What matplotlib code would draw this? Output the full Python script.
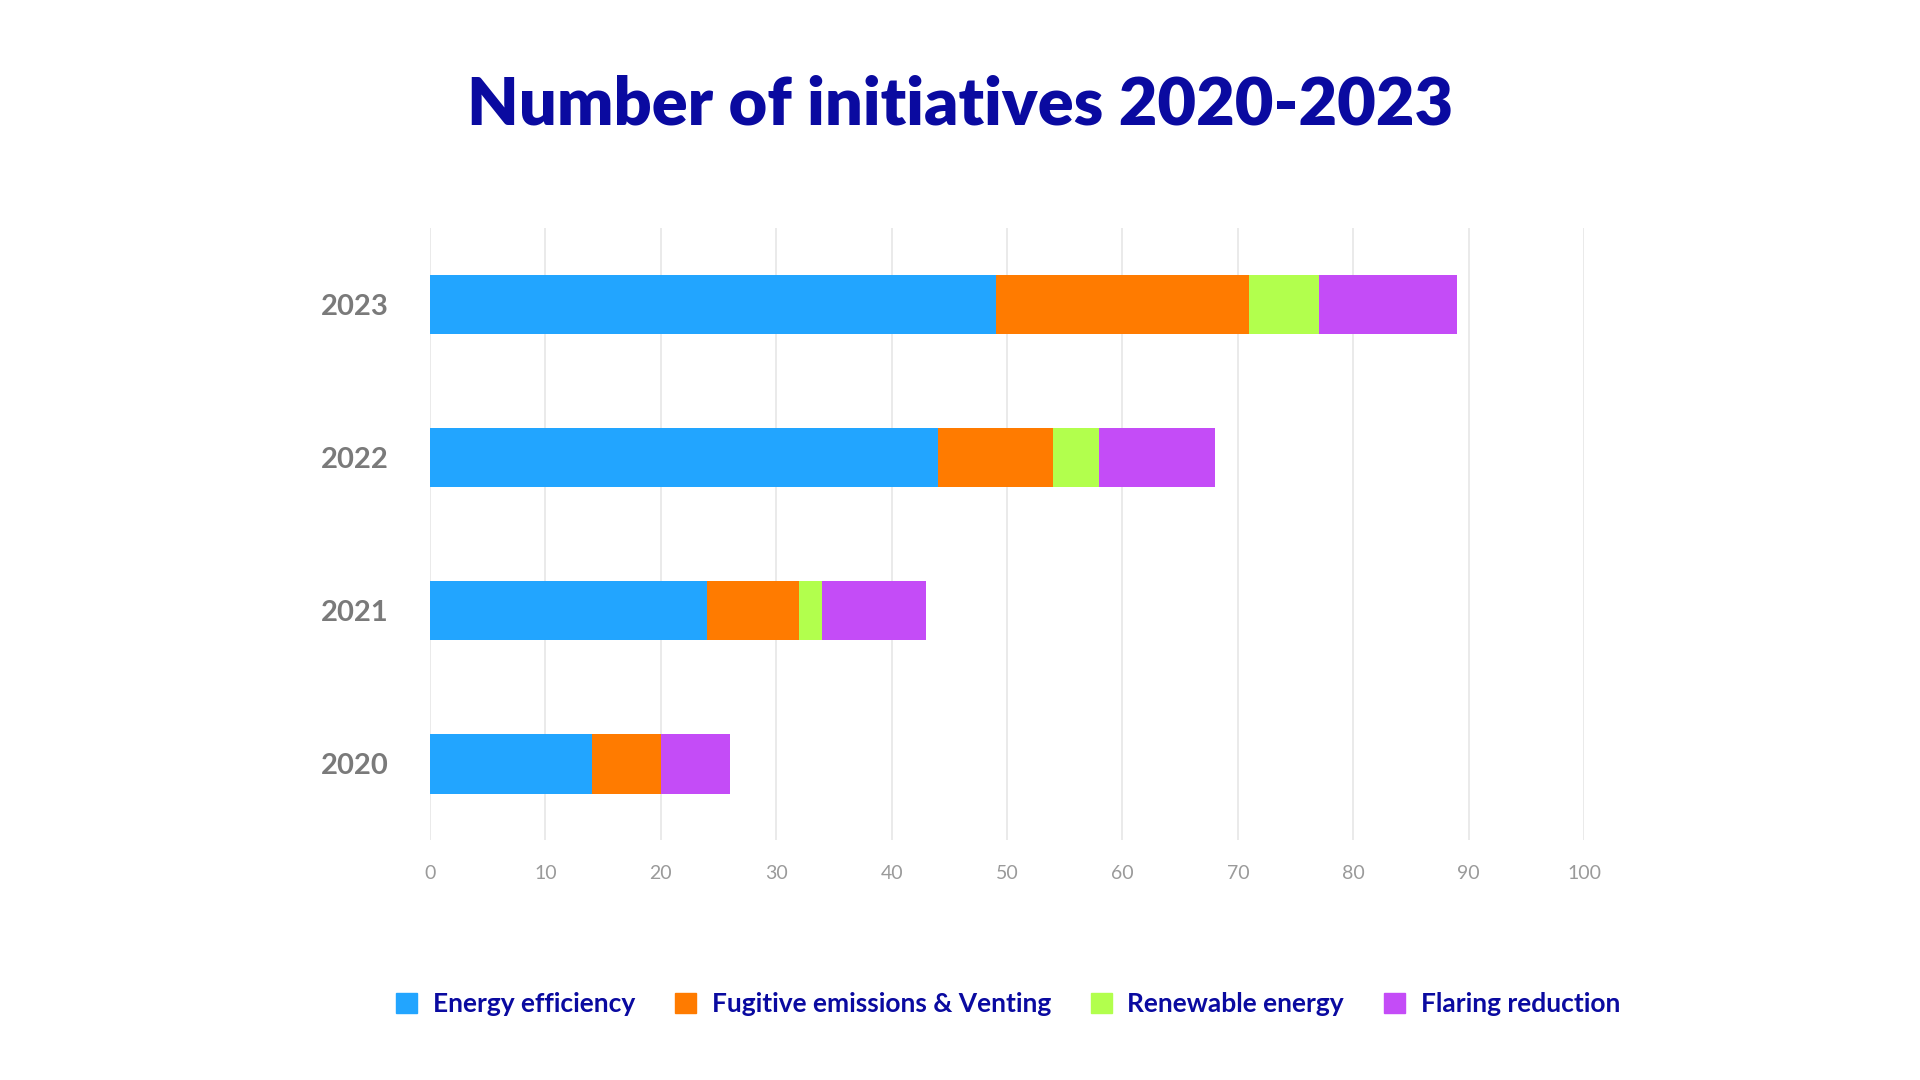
import matplotlib
matplotlib.use("Agg")
import matplotlib.pyplot as plt
from matplotlib.patches import Patch

plt.rcParams["font.family"] = "Lato"

years = ["2020", "2021", "2022", "2023"]
energy_eff = [14, 24, 44, 49]
fugitive = [6, 8, 10, 22]
renewable = [0, 2, 4, 6]
flaring = [6, 9, 10, 12]
series_names = ["Energy efficiency", "Fugitive emissions & Venting", "Renewable energy", "Flaring reduction"]
colors = ["#22a5ff", "#ff7b00", "#b2ff4d", "#c44cf7"]
xticks = [0, 10, 20, 30, 40, 50, 60, 70, 80, 90, 100]

fig = plt.figure(figsize=(19.2, 10.8), dpi=100)
ax = fig.add_axes([0.224, 0.222, 0.601, 0.567])
series = [energy_eff, fugitive, renewable, flaring]
left = [0] * len(years)
for vals, c in zip(series, colors):
    ax.barh(years, vals, left=left, color=c, height=0.39, zorder=3)
    left = [l + v for l, v in zip(left, vals)]

ax.set_xlim(0, 100)
ax.set_ylim(-0.5, 3.5)
ax.set_xticks(xticks)
ax.grid(axis="x", color="#e6e6e6", linewidth=1.2, zorder=0)
for s in ax.spines.values():
    s.set_visible(False)
ax.tick_params(axis="x", length=0, labelsize=14, labelcolor="#9a9a9a", pad=18)
ax.tick_params(axis="y", length=0, labelsize=21, labelcolor="#7a7a7a", pad=30)
for t in ax.get_yticklabels():
    t.set_fontweight("bold")

fig.text(0.5, 0.903, "Number of initiatives 2020-2023", ha="center", va="center",
         fontsize=48, fontweight="heavy", color="#0a0aa0")
handles = [Patch(color=c) for c in colors]
leg = fig.legend(handles, series_names, loc="center", bbox_to_anchor=(0.525, 0.07), ncol=4,
                 frameon=False, fontsize=19, handlelength=0.8, handleheight=0.8,
                 columnspacing=1.5, handletextpad=0.6)
for t in leg.get_texts():
    t.set_color("#0a0aa0")
    t.set_fontweight("bold")
fig.savefig("out.png", dpi=100, facecolor="white")
